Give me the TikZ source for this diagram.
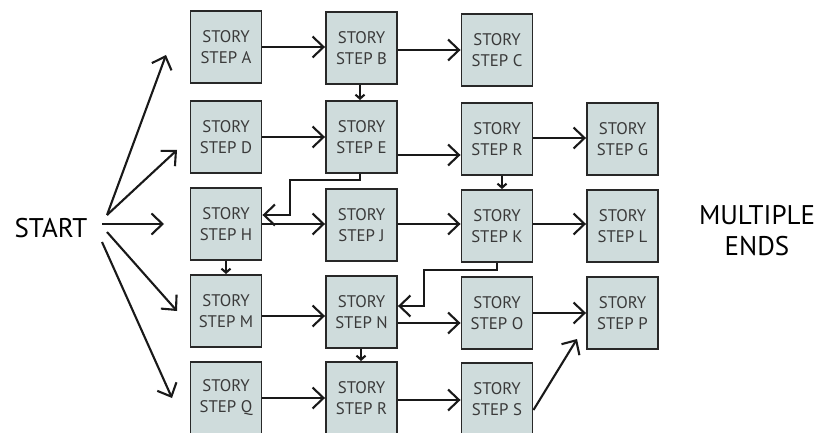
\documentclass[tikz,border=0pt]{standalone}
\usepackage{fontspec}
\setmainfont{PT Sans}
\usetikzlibrary{arrows.meta}
\definecolor{boxfill}{RGB}{207,220,220}
\definecolor{boxline}{RGB}{40,40,40}
\definecolor{boxtext}{RGB}{58,58,58}
\begin{document}
\begin{tikzpicture}[x=1pt,y=-1pt,
  stepbox/.style={draw=boxline, line width=1.9pt, fill=boxfill,
    minimum width=71pt, minimum height=72pt, inner sep=0pt,
    align=center, text=boxtext,
    font=\fontsize{16.8}{21}\selectfont},
  arr/.style={draw=black!90, line width=2.1pt,
    -{Straight Barb[length=11pt,width=21pt]}},
  tick/.style={draw=black!90, line width=2.1pt,
    -{Straight Barb[length=4pt,width=9pt]}},
  bigtext/.style={align=center, font=\fontsize{27}{31}\selectfont}]
\useasboundingbox (0,0) rectangle (819,433);
\clip (0,0) rectangle (819,433);

% labels at both sides
\node[bigtext] (start) at (51,228) {START};
\node[bigtext] (ends) at (757,231) {MULTIPLE\\ENDS};

% column 1
\node[stepbox] (A) at (226,47) {STORY\\STEP A};
\node[stepbox] (D) at (226,137) {STORY\\STEP D};
\node[stepbox] (H) at (226,224) {STORY\\STEP H};
\node[stepbox] (M) at (226,311) {STORY\\STEP M};
\node[stepbox] (Q) at (226,398) {STORY\\STEP Q};
% column 2
\node[stepbox] (B) at (361.5,48) {STORY\\STEP B};
\node[stepbox] (E) at (361.5,137) {STORY\\STEP E};
\node[stepbox] (J) at (361.5,225) {STORY\\STEP J};
\node[stepbox] (N) at (361.5,312) {STORY\\STEP N};
\node[stepbox] (R2) at (361.5,398) {STORY\\STEP R};
% column 3
\node[stepbox] (C) at (497,50) {STORY\\STEP C};
\node[stepbox] (R) at (497,139) {STORY\\STEP R};
\node[stepbox] (K) at (497,226) {STORY\\STEP K};
\node[stepbox] (O) at (497,313) {STORY\\STEP O};
\node[stepbox] (S) at (497,399) {STORY\\STEP S};
% column 4
\node[stepbox] (G) at (622.5,139) {STORY\\STEP G};
\node[stepbox] (L) at (622.5,226) {STORY\\STEP L};
\node[stepbox] (P) at (622.5,313) {STORY\\STEP P};

% fan of arrows leaving START
\coordinate (s1) at (107,215);
\coordinate (s2) at (102,224);
\coordinate (s3) at (107,232);
\coordinate (s4) at (102,242);
\coordinate (tA) at (166,55);
\coordinate (tD) at (177,150);
\coordinate (tH) at (164,224);
\coordinate (tM) at (177,311);
\coordinate (tQ) at (172,398);
\draw[arr] (s1) -- (tA);
\draw[arr] (s1) -- (tD);
\draw[arr] (s2) -- (tH);
\draw[arr] (s3) -- (tM);
\draw[arr] (s4) -- (tQ);

% horizontal links
\draw[arr] (A.east) -- (A.east -| B.west);
\draw[arr] ([yshift=-2pt]B.east) -- ([yshift=-2pt]B.east -| C.west);
\draw[arr] (D.east) -- (D.east -| E.west);
\draw[arr] ([yshift=-18pt]E.east) -- ([yshift=-18pt]E.east -| R.west);
\draw[arr] ([yshift=1pt]R.east) -- ([yshift=1pt]R.east -| G.west);
\draw[arr] (H.east) -- (H.east -| J.west);
\draw[arr] ([yshift=2pt]K.west -| J.east) -- ([yshift=2pt]K.west);
\draw[arr] ([yshift=2pt]K.east) -- ([yshift=2pt]K.east -| L.west);
\draw[arr] ([yshift=-5pt]M.east) -- ([yshift=-5pt]M.east -| N.west);
\draw[arr] ([yshift=-11pt]N.east) -- ([yshift=-11pt]N.east -| O.west);
\draw[arr] (O.east) -- (O.east -| P.west);
\draw[arr] (Q.east) -- (Q.east -| R2.west);
\draw[arr] ([yshift=-2pt]R2.east) -- ([yshift=-2pt]R2.east -| S.west);
\coordinate (tP) at (577,339);
\draw[arr] ([yshift=-11pt]S.east) -- (tP);

% vertical links
\draw[tick] ([xshift=-1.5pt]B.south) -- ([xshift=-1.5pt]E.north);
\draw[tick] ([xshift=5pt]R.south) -- ([xshift=5pt]K.north);
\draw[tick] (H.south) -- (M.north);
\draw[tick] ([xshift=-0.5pt]N.south) -- ([xshift=-0.5pt]N.south |- R2.north);

% elbow links back to the left
\coordinate (eh) at (290,180);
\draw[arr] ([xshift=-1.5pt]E.south) |- (eh) |- ([yshift=9pt]H.east);
\coordinate (kn) at (424,270);
\draw[arr] (K.south) |- (kn) |- ([yshift=6pt]N.east);
\end{tikzpicture}
\end{document}
